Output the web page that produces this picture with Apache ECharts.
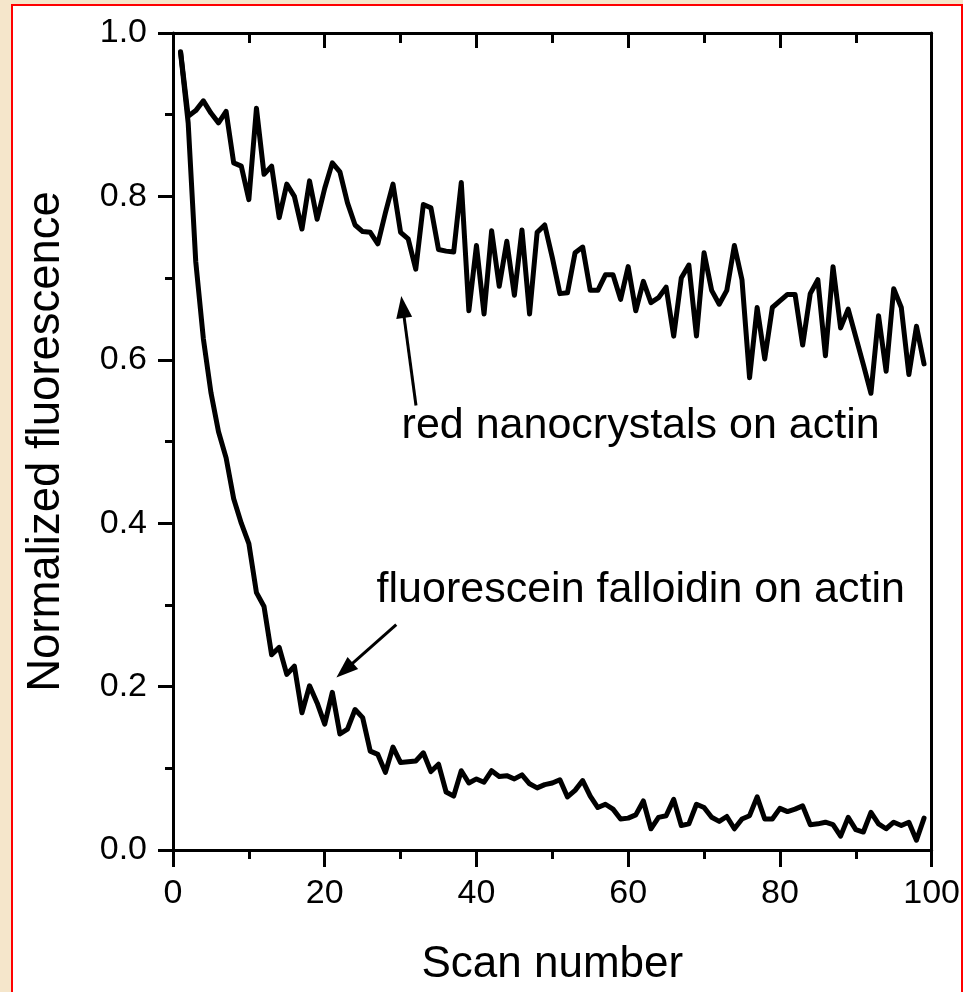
<!DOCTYPE html>
<html><head><meta charset="utf-8">
<script src="https://cdn.jsdelivr.net/npm/echarts@6/dist/echarts.min.js"></script>
<style>
html,body{margin:0;padding:0;background:#f5e6cb;}
#frame{position:absolute;left:11px;top:4px;width:948px;height:1000px;border:2px solid #ff0000;background:#fff;}
#c{position:absolute;left:0;top:0;width:963px;height:992px;}
</style>
</head><body><div id="frame"></div><div id="c"></div>
<script>
// ---- data ----
const scans = [];
for (let i = 1; i <= 99; i++) scans.push(i);

const redNanocrystals = [
0.977,0.898,0.905,0.917,0.902,0.890,0.904,0.841,0.837,0.796,
0.908,0.827,0.837,0.774,0.815,0.800,0.760,0.819,0.772,0.810,
0.841,0.830,0.792,0.765,0.757,0.756,0.742,0.780,0.815,0.756,
0.748,0.711,0.790,0.786,0.735,0.733,0.732,0.817,0.660,0.740,
0.656,0.758,0.690,0.745,0.679,0.759,0.656,0.756,0.765,0.725,
0.681,0.682,0.731,0.738,0.685,0.685,0.704,0.704,0.674,0.714,
0.660,0.696,0.670,0.676,0.689,0.629,0.700,0.716,0.629,0.731,
0.685,0.668,0.685,0.740,0.698,0.578,0.664,0.601,0.664,0.672,
0.680,0.680,0.618,0.681,0.698,0.605,0.714,0.639,0.662,0.628,
0.594,0.559,0.654,0.586,0.687,0.664,0.582,0.641,0.595
];

const fluoresceinFalloidin = [
0.976,0.890,0.720,0.626,0.560,0.512,0.480,0.430,0.400,0.375,
0.315,0.298,0.239,0.248,0.215,0.225,0.168,0.201,0.180,0.154,
0.193,0.142,0.148,0.172,0.162,0.121,0.117,0.095,0.126,0.107,
0.108,0.109,0.119,0.096,0.105,0.071,0.066,0.097,0.082,0.087,
0.083,0.097,0.090,0.091,0.087,0.092,0.081,0.076,0.080,0.082,
0.086,0.065,0.073,0.085,0.066,0.052,0.056,0.050,0.038,0.039,
0.043,0.060,0.026,0.040,0.042,0.062,0.030,0.032,0.056,0.052,
0.040,0.035,0.041,0.026,0.038,0.042,0.065,0.038,0.038,0.051,
0.047,0.050,0.054,0.031,0.032,0.034,0.031,0.017,0.040,0.025,
0.022,0.046,0.032,0.026,0.034,0.030,0.034,0.012,0.039
];

const xTickLabels = ['0','20','40','60','80','100'];
const yTickLabels = ['0.0','0.2','0.4','0.6','0.8','1.0'];

const xTitle = 'Scan number';
const yTitle = 'Normalized fluorescence';
const redLabel = 'red nanocrystals on actin';
const fluoLabel = 'fluorescein falloidin on actin';

// annotation anchors in data coordinates
const redLabelAnchor = [30.13, 0.501];
const fluoLabelAnchor = [26.84, 0.300];
const redArrow = [[32.03, 0.544], [30.09, 0.678]];
const fluoArrow = [[29.43, 0.276], [21.54, 0.211]];

// ---- chart ----
const FONT = '"Liberation Sans", Arial, Helvetica, sans-serif';
const chart = echarts.init(document.getElementById('c'), null, {renderer: 'canvas'});

const lineW = 3;
function xFmt(v){ const i = Math.round(v / 20); return xTickLabels[i] !== undefined ? xTickLabels[i] : ''; }
function yFmt(v){ const i = Math.round(v / 0.2); return yTickLabels[i] !== undefined ? yTickLabels[i] : ''; }

const option = {
  backgroundColor: 'transparent',
  animation: false,
  grid: {left: 173, right: 30, top: 33, bottom: 139, containLabel: false},
  xAxis: [
    {
      type: 'value', min: 0, max: 100, interval: 20, position: 'bottom',
      name: xTitle, nameLocation: 'middle', nameGap: 93,
      nameTextStyle: {fontFamily: FONT, fontSize: 44, color: '#000'},
      axisLine: {show: true, onZero: false, lineStyle: {color: '#000', width: lineW}},
      axisTick: {show: true, inside: false, length: 17, lineStyle: {color: '#000', width: lineW}},
      minorTick: {show: true, splitNumber: 2, length: 9, lineStyle: {color: '#000', width: lineW}},
      axisLabel: {show: true, margin: 27, fontFamily: FONT, fontSize: 34, color: '#000', formatter: xFmt},
      splitLine: {show: false}
    },
    {
      type: 'value', min: 0, max: 100, interval: 20, position: 'top',
      axisLine: {show: true, onZero: false, lineStyle: {color: '#000', width: lineW}},
      axisTick: {show: true, inside: true, length: 15, lineStyle: {color: '#000', width: lineW}},
      minorTick: {show: true, splitNumber: 2, length: 10, lineStyle: {color: '#000', width: lineW}},
      axisLabel: {show: false},
      splitLine: {show: false}
    }
  ],
  yAxis: [
    {
      type: 'value', min: 0, max: 1, interval: 0.2, position: 'left',
      name: yTitle, nameLocation: 'middle', nameGap: 104,
      nameTextStyle: {fontFamily: FONT, fontSize: 45.5, color: '#000'},
      axisLine: {show: true, onZero: false, lineStyle: {color: '#000', width: lineW}},
      axisTick: {show: true, inside: false, length: 15, lineStyle: {color: '#000', width: lineW}},
      minorTick: {show: true, splitNumber: 2, length: 8, lineStyle: {color: '#000', width: lineW}},
      axisLabel: {show: true, margin: 26, fontFamily: FONT, fontSize: 34, color: '#000', formatter: yFmt},
      splitLine: {show: false}
    },
    {
      type: 'value', min: 0, max: 1, interval: 0.2, position: 'right',
      axisLine: {show: true, onZero: false, lineStyle: {color: '#000', width: lineW}},
      axisTick: {show: false},
      axisLabel: {show: false},
      splitLine: {show: false}
    }
  ],
  series: [
    {
      name: redLabel, type: 'line', xAxisIndex: 0, yAxisIndex: 0,
      data: scans.map((s, i) => [s, redNanocrystals[i]]),
      showSymbol: false, symbol: 'none', smooth: false,
      lineStyle: {color: '#000', width: 5, join: 'round', cap: 'round'},
      z: 3
    },
    {
      name: fluoLabel, type: 'line', xAxisIndex: 0, yAxisIndex: 0,
      data: scans.map((s, i) => [s, fluoresceinFalloidin[i]]),
      showSymbol: false, symbol: 'none', smooth: false,
      lineStyle: {color: '#000', width: 5, join: 'round', cap: 'round'},
      z: 3
    }
  ]
};
chart.setOption(option);

function px(p){ return chart.convertToPixel({gridIndex: 0}, p); }
function arrowEls(from, to){
  const a = px(from), b = px(to);
  const dx = b[0] - a[0], dy = b[1] - a[1];
  const L = Math.hypot(dx, dy), ux = dx / L, uy = dy / L;
  const hl = 22, hw = 8;
  const base = [b[0] - ux * hl, b[1] - uy * hl];
  const pxp = -uy, pyp = ux;
  return [
    {type: 'line', shape: {x1: a[0], y1: a[1], x2: base[0] + ux * 2, y2: base[1] + uy * 2},
     style: {stroke: '#000', lineWidth: 3}, z: 10},
    {type: 'polygon', shape: {points: [b, [base[0] + pxp * hw, base[1] + pyp * hw], [base[0] - pxp * hw, base[1] - pyp * hw]]},
     style: {fill: '#000'}, z: 10}
  ];
}
const FS = 43;
function labelEl(text, anchor){
  const p = px(anchor);
  return {type: 'text', x: p[0], y: p[1] + 0.1535 * FS, z: 10,
    style: {text: text, fill: '#000', font: FS + 'px ' + FONT, align: 'left', verticalAlign: 'bottom'}};
}
chart.setOption({
  graphic: [].concat(
    arrowEls(redArrow[0], redArrow[1]),
    arrowEls(fluoArrow[0], fluoArrow[1]),
    [labelEl(redLabel, redLabelAnchor), labelEl(fluoLabel, fluoLabelAnchor)]
  )
});
</script>
</body></html>
